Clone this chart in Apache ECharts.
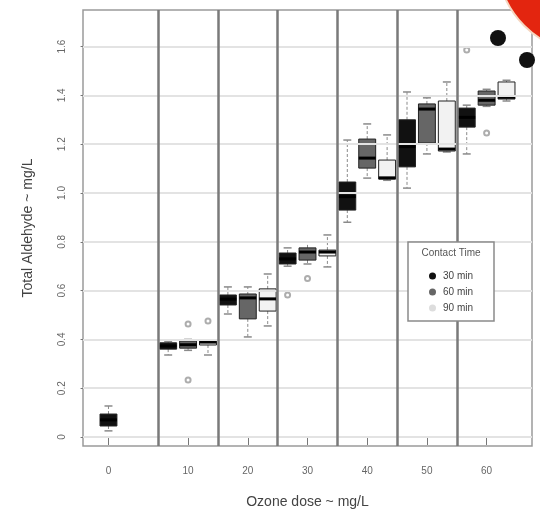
<!DOCTYPE html>
<html><head><meta charset="utf-8">
<script src="https://cdn.jsdelivr.net/npm/echarts@6/dist/echarts.min.js"></script>
<style>html,body{margin:0;padding:0;background:#fff}#c{width:540px;height:524px}</style>
</head><body><div id="c"></div>
<script>
// ---- data ----
const doses = ['0', '10', '20', '30', '40', '50', '60'];
const contactTimes = ['30 min', '60 min', '90 min'];
const yTicks = [0, 0.2, 0.4, 0.6, 0.8, 1.0, 1.2, 1.4, 1.6];
// five-number summaries [min, Q1, median, Q3, max] per dose (null = not measured)
const box30 = [
  [0.025, 0.045, 0.070, 0.094, 0.127],
  [0.336, 0.360, 0.373, 0.386, 0.392],
  [0.504, 0.541, 0.565, 0.582, 0.615],
  [0.700, 0.709, 0.730, 0.754, 0.775],
  [0.880, 0.930, 0.985, 1.045, 1.217],
  [1.020, 1.107, 1.190, 1.300, 1.414],
  [1.160, 1.270, 1.310, 1.348, 1.360]
];
const box60 = [
  null,
  [0.355, 0.364, 0.378, 0.393, 0.400],
  [0.410, 0.484, 0.570, 0.586, 0.615],
  [0.709, 0.725, 0.758, 0.775, 0.800],
  [1.061, 1.102, 1.143, 1.221, 1.283],
  [1.160, 1.205, 1.344, 1.365, 1.390],
  [1.355, 1.360, 1.380, 1.418, 1.425]
];
const box90 = [
  null,
  [0.336, 0.377, 0.389, 0.393, 0.397],
  [0.455, 0.516, 0.566, 0.607, 0.668],
  [0.697, 0.742, 0.758, 0.766, 0.828],
  [1.052, 1.057, 1.062, 1.135, 1.238],
  [1.168, 1.172, 1.180, 1.377, 1.455],
  [1.377, 1.385, 1.392, 1.455, 1.462]
];
// outliers: [dose index, value]
const out30 = [[3, 0.582], [6, 1.586]];
const out60 = [[1, 0.463], [1, 0.234], [3, 0.650], [6, 1.246]];
const out90 = [[1, 0.475]];

// ---- layout helpers ----
const boxes = [box30, box60, box90];
const outs = [out30, out60, out90];
const fills = ['#111111', '#666666', '#f2f2f2'];
const legendFills = ['#111111', '#666666', '#dddddd'];
const slotOf = (d, ct) => 3 * d + 1 + ct;
const tickSlots = doses.map((_, d) => {
  const s = [];
  boxes.forEach((b, ct) => { if (b[d]) s.push(slotOf(d, ct)); });
  return s.reduce((a, b) => a + b, 0) / s.length;
});
const dividers = doses.slice(1).map((_, i) => 3 * (i + 1) + 0.5);

function makeRender(fill) {
  return function (params, api) {
    const x = api.value(0);
    const c = v => api.coord([x, v]);
    const pMin = c(api.value(1)), pQ1 = c(api.value(2)), pMd = c(api.value(3)),
          pQ3 = c(api.value(4)), pMx = c(api.value(5));
    const bw = api.size([0.85, 0])[0];
    const sw = api.size([0.4, 0])[0];
    const cx = pMd[0];
    const dash = { stroke: '#8a8a8a', lineWidth: 1, lineDash: [3, 2] };
    const staple = { stroke: '#8a8a8a', lineWidth: 1.5 };
    return {
      type: 'group', children: [
        { type: 'line', shape: { x1: cx, y1: pQ3[1], x2: cx, y2: pMx[1] }, style: dash },
        { type: 'line', shape: { x1: cx, y1: pQ1[1], x2: cx, y2: pMin[1] }, style: dash },
        { type: 'line', shape: { x1: cx - sw / 2, y1: pMx[1], x2: cx + sw / 2, y2: pMx[1] }, style: staple },
        { type: 'line', shape: { x1: cx - sw / 2, y1: pMin[1], x2: cx + sw / 2, y2: pMin[1] }, style: staple },
        { type: 'rect', shape: { x: cx - bw / 2, y: pQ3[1], width: bw, height: pQ1[1] - pQ3[1] },
          style: { fill: fill, stroke: '#222', lineWidth: 1 } },
        { type: 'line', shape: { x1: cx - bw / 2, y1: pMd[1], x2: cx + bw / 2, y2: pMd[1] },
          style: { stroke: '#000', lineWidth: 3 } }
      ]
    };
  };
}

const series = [
  { type: 'line', data: [], z: 1, silent: true,
    markLine: { silent: true, symbol: 'none', animation: false, label: { show: false },
      lineStyle: { color: '#e3e3e3', width: 2, type: 'solid' },
      data: yTicks.map(v => ({ yAxis: v })) } },
  { type: 'line', data: [], z: 2, silent: true,
    markLine: { silent: true, symbol: 'none', animation: false, label: { show: false },
      lineStyle: { color: '#7a7a7a', width: 2.5, type: 'solid' },
      data: dividers.map(v => ({ xAxis: v })) } }
];
contactTimes.forEach((name, ct) => {
  const data = [];
  boxes[ct].forEach((b, d) => { if (b) data.push([slotOf(d, ct)].concat(b)); });
  series.push({
    type: 'custom', name: name, z: 3, animation: false,
    itemStyle: { color: legendFills[ct] },
    encode: { x: 0, y: [1, 2, 3, 4, 5] },
    renderItem: makeRender(fills[ct]),
    data: data
  });
  series.push({
    type: 'scatter', name: name + ' outliers', z: 4, animation: false,
    symbol: 'emptyCircle', symbolSize: 5,
    itemStyle: { color: '#999', borderWidth: 1 },
    data: outs[ct].map(o => [slotOf(o[0], ct), o[1]])
  });
});

const chart = echarts.init(document.getElementById('c'), null, { renderer: 'canvas' });
chart.setOption({
  backgroundColor: '#fff',
  animation: false,
  textStyle: { fontFamily: 'Liberation Sans, Arial, sans-serif' },
  grid: { left: 83, right: 8, top: 10, bottom: 78, show: true, borderColor: '#9a9a9a', borderWidth: 1.5 },
  xAxis: {
    type: 'value', min: -0.28, max: 22.28,
    axisLine: { show: false }, splitLine: { show: false },
    axisTick: { show: true, customValues: tickSlots, length: 8, lineStyle: { color: '#777' } },
    axisLabel: { customValues: tickSlots, color: '#666', fontSize: 10, margin: 20,
      formatter: v => { const i = tickSlots.findIndex(t => Math.abs(t - v) < 0.01); return i >= 0 ? doses[i] : ''; } },
    name: 'Ozone dose ~ mg/L', nameLocation: 'middle', nameGap: 49,
    nameTextStyle: { fontSize: 14, color: '#444' }
  },
  yAxis: {
    type: 'value', min: -0.037, max: 1.75,
    axisLine: { show: false }, splitLine: { show: false },
    axisTick: { show: true, customValues: yTicks, length: 8, lineStyle: { color: '#777' } },
    axisLabel: { customValues: yTicks, rotate: 90, color: '#666', fontSize: 10, margin: 16,
      formatter: v => (Math.abs(v) < 1e-9 ? '0' : v.toFixed(1)) },
    name: 'Total Aldehyde ~ mg/L', nameLocation: 'middle', nameGap: 48,
    nameTextStyle: { fontSize: 14, color: '#444' }
  },
  legend: {
    data: contactTimes, orient: 'vertical', left: 424, top: 266, z: 110,
    icon: 'circle', itemWidth: 7, itemHeight: 7, itemGap: 6, selectedMode: false,
    textStyle: { fontSize: 10, color: '#444', padding: [0, 0, 0, 2] }
  },
  graphic: [
    { type: 'rect', z: 100, shape: { x: 408, y: 242, width: 86, height: 79 },
      style: { fill: '#fff', stroke: '#8a8a8a', lineWidth: 1.5 } },
    { type: 'text', z: 101, x: 451, y: 253,
      style: { text: 'Contact Time', fontSize: 10, fill: '#555', align: 'center', verticalAlign: 'middle',
        fontFamily: 'Liberation Sans, Arial, sans-serif' } },
    { type: 'circle', z: 120, shape: { cx: 498, cy: 38, r: 8 }, style: { fill: '#111' } },
    { type: 'circle', z: 120, shape: { cx: 527, cy: 60, r: 8 }, style: { fill: '#111' } },
    { type: 'circle', z: 121, shape: { cx: 590, cy: -40, r: 93 }, style: { fill: '#e3250f', stroke: '#f6d6c0', lineWidth: 2 } }
  ],
  series: series
});
</script>
</body></html>
